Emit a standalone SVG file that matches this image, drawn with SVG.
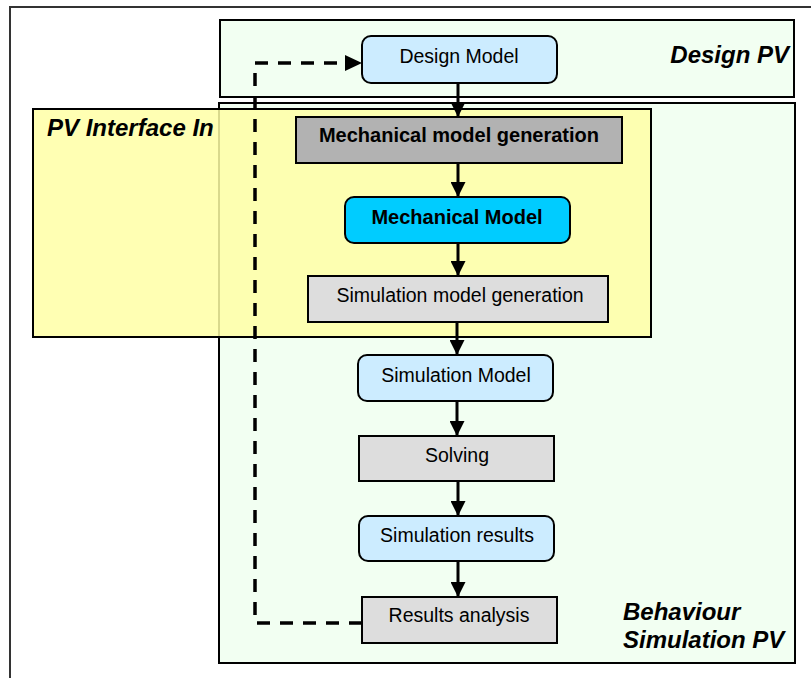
<svg xmlns="http://www.w3.org/2000/svg" width="811" height="678" viewBox="0 0 811 678">
<defs>
<marker id="ah" viewBox="0 0 10 10" refX="10" refY="5" markerWidth="5" markerHeight="5" markerUnits="strokeWidth" orient="auto">
<path d="M0,0 L10,5 L0,10 z" fill="#000"/>
</marker>
<style>
.pv{stroke:#000;stroke-width:2;}
.node{stroke:#000;stroke-width:2;}
.proc{fill:#DDDDDD;}
.model{fill:#CCECFF;}
.t{font-family:"Liberation Sans",Arial,sans-serif;font-size:19.5px;fill:#000;text-anchor:middle;}
.tb{font-family:"Liberation Sans",Arial,sans-serif;font-size:20px;font-weight:bold;fill:#000;text-anchor:middle;}
.lab{font-family:"Liberation Sans",Arial,sans-serif;font-size:24px;font-weight:bold;font-style:italic;fill:#000;}
.arr{stroke:#000;stroke-width:3;fill:none;marker-end:url(#ah);}
.dash{stroke:#000;stroke-width:3.5;fill:none;stroke-dasharray:13 10;}
</style>
</defs>
<rect x="0" y="0" width="811" height="678" fill="#fff"/>
<rect id="frame" x="10" y="7" width="840" height="700" fill="#fff" stroke="#333" stroke-width="2"/>

<g id="design-pv">
<rect class="pv" x="220" y="20" width="574" height="77" fill="#F2FFF2"/>
<text class="lab" x="789" y="63" text-anchor="end">Design PV</text>
</g>

<g id="behaviour-pv">
<rect class="pv" x="219" y="103" width="576" height="560" fill="#F2FFF2"/>
<text class="lab" x="623" y="620">Behaviour</text>
<text class="lab" x="623" y="648">Simulation PV</text>
</g>

<g id="pv-interface-in">
<rect x="33" y="109" width="618" height="228" fill="#FFFFA6" fill-opacity="0.85" stroke="#000" stroke-width="2"/>
<text class="lab" x="47" y="136">PV Interface In</text>
</g>

<g id="connectors">
<polyline class="dash" points="362,623 255,623 255,63 346,63"/>
<path d="M345,55 L362,63 L345,71 z" fill="#000"/>
<line class="arr" x1="458" y1="83" x2="458" y2="117"/>
<line class="arr" x1="458" y1="163" x2="458" y2="197"/>
<line class="arr" x1="458" y1="243" x2="458" y2="276"/>
<line class="arr" x1="457" y1="322" x2="457" y2="355"/>
<line class="arr" x1="457" y1="401" x2="457" y2="436"/>
<line class="arr" x1="458" y1="481" x2="458" y2="516"/>
<line class="arr" x1="458" y1="561" x2="458" y2="597"/>
</g>

<g id="design-model">
<rect class="node model" x="362" y="36" width="195" height="47" rx="9"/>
<text class="t" x="459" y="63">Design Model</text>
</g>

<g id="mech-model-gen">
<rect class="node" x="296" y="117" width="326" height="46" fill="#B2B2B2"/>
<text class="tb" x="459" y="142">Mechanical model generation</text>
</g>

<g id="mech-model">
<rect class="node" x="345" y="197" width="225" height="46" rx="9" fill="#00CCFF"/>
<text class="tb" x="457" y="224">Mechanical Model</text>
</g>

<g id="sim-model-gen">
<rect class="node proc" x="308" y="276" width="300" height="46"/>
<text class="t" x="460" y="302">Simulation model generation</text>
</g>

<g id="sim-model">
<rect class="node model" x="358" y="355" width="195" height="46" rx="9"/>
<text class="t" x="456" y="382">Simulation Model</text>
</g>

<g id="solving">
<rect class="node proc" x="359" y="436" width="195" height="45"/>
<text class="t" x="457" y="462">Solving</text>
</g>

<g id="sim-results">
<rect class="node model" x="359" y="516" width="195" height="45" rx="9"/>
<text class="t" x="457" y="542">Simulation results</text>
</g>

<g id="results-analysis">
<rect class="node proc" x="362" y="597" width="195" height="46"/>
<text class="t" x="459" y="622">Results analysis</text>
</g>
</svg>
